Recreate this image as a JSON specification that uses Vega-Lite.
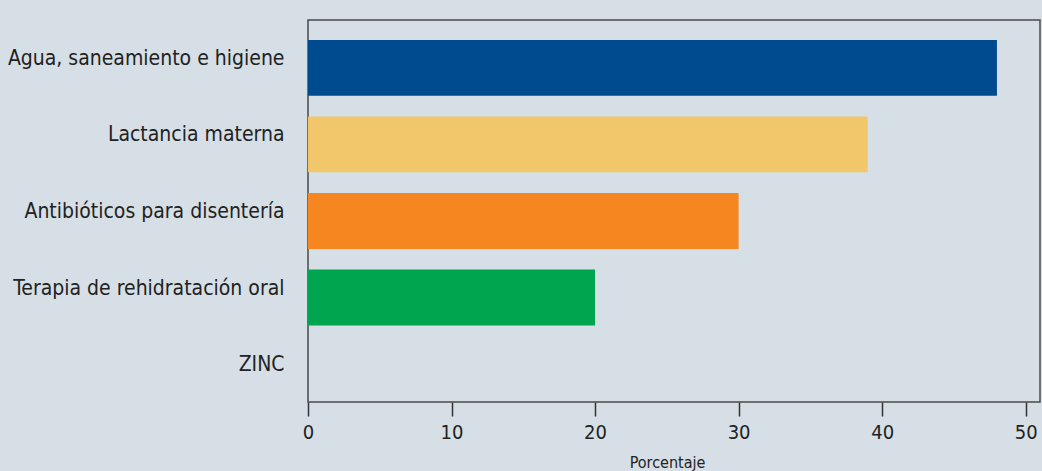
{
  "$schema": "https://vega.github.io/schema/vega-lite/v6.json",
  "autosize": "none",
  "width": 732,
  "height": 382,
  "padding": {"left": 308, "top": 20, "right": 2, "bottom": 69},
  "background": "#d5dfe5",
  "config": {
    "view": {"stroke": "#4a4a4a", "strokeWidth": 1.5},
    "font": "DejaVu Sans Condensed"
  },
  "data": {
    "values": [
      {"categoria": "Agua, saneamiento e higiene", "porcentaje": 48},
      {"categoria": "Lactancia materna", "porcentaje": 39},
      {"categoria": "Antibióticos para disentería", "porcentaje": 30},
      {"categoria": "Terapia de rehidratación oral", "porcentaje": 20},
      {"categoria": "ZINC", "porcentaje": 0}
    ]
  },
  "mark": {"type": "bar"},
  "encoding": {
    "y": {
      "field": "categoria",
      "type": "nominal",
      "sort": null,
      "scale": {"paddingInner": 0.27, "paddingOuter": 0.13, "align": 1},
      "axis": {
        "title": null,
        "ticks": false,
        "domain": false,
        "labelPadding": 24,
        "labelFontSize": 21,
        "labelColor": "#222222",
        "labelOffset": -9,
        "labelLimit": 400
      }
    },
    "x": {
      "field": "porcentaje",
      "type": "quantitative",
      "scale": {"domain": [0, 51], "nice": false},
      "axis": {
        "title": "Porcentaje",
        "values": [0, 10, 20, 30, 40, 50],
        "grid": false,
        "domain": false,
        "labelFlush": false,
        "tickSize": 14,
        "tickColor": "#333333",
        "tickWidth": 1.5,
        "labelFontSize": 20,
        "labelColor": "#222222",
        "labelPadding": 6,
        "titleFontSize": 16,
        "titleFontWeight": "normal",
        "titleColor": "#222222",
        "titleX": 359,
        "titleY": 65,
        "titleBaseline": "alphabetic",
        "titleAlign": "center"
      }
    },
    "color": {
      "field": "categoria",
      "type": "nominal",
      "sort": null,
      "scale": {
        "domain": ["Agua, saneamiento e higiene", "Lactancia materna", "Antibióticos para disentería", "Terapia de rehidratación oral", "ZINC"],
        "range": ["#004a8f", "#f2c66b", "#f68620", "#00a54f", "#888888"]
      },
      "legend": null
    }
  }
}
